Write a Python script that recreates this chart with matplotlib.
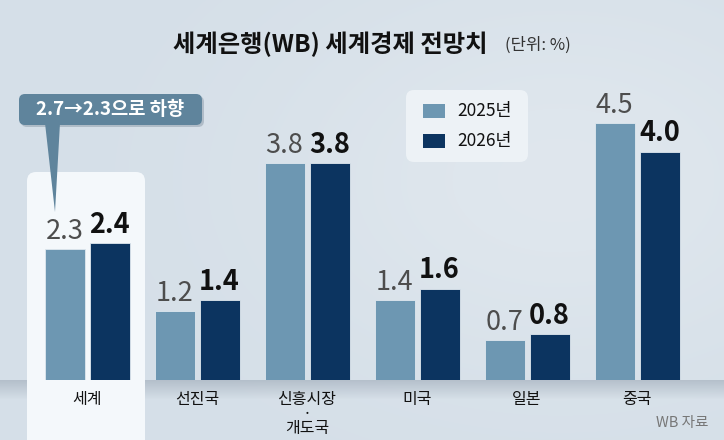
import matplotlib
matplotlib.use("Agg")
import matplotlib.pyplot as plt
import numpy as np
from matplotlib.patches import FancyBboxPatch, Polygon, Rectangle

plt.rcParams['font.family'] = ['Noto Sans CJK KR', 'DejaVu Sans']

categories = ["세계", "선진국", "신흥시장\n·\n개도국", "미국", "일본", "중국"]
v2025 = [2.3, 1.2, 3.8, 1.4, 0.7, 4.5]
v2026 = [2.4, 1.4, 3.8, 1.6, 0.8, 4.0]
series_names = ["2025년", "2026년"]
title = "세계은행(WB) 세계경제 전망치"
unit = "(단위: %)"
callout = "2.7→2.3으로 하향"
source = "WB 자료"

W, H = 724, 440
BG = "#d5dfe8"
C25 = "#6d97b2"
C26 = "#0c3460"

fig = plt.figure(figsize=(W / 100, H / 100), dpi=100)
fig.patch.set_facecolor(BG)

# background layer in pixel coordinates
bg = fig.add_axes([0, 0, 1, 1])
bg.set_xlim(0, W)
bg.set_ylim(H, 0)
bg.axis("off")
# subtle light gradient
yy, xx = np.mgrid[0:H, 0:W]
glow = np.exp(-(((xx - 560) / 300.0) ** 2 + ((yy - 180) / 200.0) ** 2))
img = np.zeros((H, W, 4))
img[..., :3] = 1.0
img[..., 3] = 0.25 * glow
bg.imshow(img, extent=(0, W, H, 0), zorder=0)
# shadow band under baseline
base_px = 380
sh = np.zeros((20, W, 4))
sh[..., :3] = np.array([0.55, 0.6, 0.66])
sh[..., 3] = np.linspace(0.45, 0.0, 20)[:, None]
bg.imshow(sh, extent=(0, W, base_px + 20, base_px), zorder=1)
# highlight box for 세계
bg.add_patch(FancyBboxPatch((27, 172), 118, 300, boxstyle="round,pad=0,rounding_size=9",
                            facecolor="#f4f8fb", edgecolor="none", zorder=2))
# callout
bg.add_patch(Polygon([(45, 123), (60, 123), (55, 212)], closed=True,
                     facecolor="#5f849c", edgecolor="none", zorder=6))
bg.add_patch(FancyBboxPatch((21, 96), 183, 31, boxstyle="round,pad=0,rounding_size=6",
                            facecolor="#8a9aa8", edgecolor="none", alpha=0.5, zorder=5))
bg.add_patch(FancyBboxPatch((19, 94), 183, 31, boxstyle="round,pad=0,rounding_size=6",
                            facecolor="#5f849c", edgecolor="none", zorder=6))
bg.text(110, 109.5, callout, color="white", fontsize=13.5, fontweight="bold",
        ha="center", va="center", zorder=7)
# legend box
bg.add_patch(FancyBboxPatch((406, 90), 122, 72, boxstyle="round,pad=0,rounding_size=8",
                            facecolor="#edf2f6", edgecolor="none", zorder=2))
for i, (name, col) in enumerate(zip(series_names, [C25, C26])):
    yc = 111 + 30 * i
    bg.add_patch(Rectangle((423, yc - 7), 22, 14, facecolor=col, edgecolor="none", zorder=3))
    bg.text(457, yc, name, fontsize=12.5, ha="left", va="center", color="#111111", zorder=3)
# titles
bg.text(330, 44, title, fontsize=17.5, fontweight="bold", ha="center", va="center",
        color="#111111", zorder=3)
bg.text(538, 45, unit, fontsize=12, ha="center", va="center", color="#333333", zorder=3)
bg.text(708, 423, source, fontsize=10.5, ha="right", va="center", color="#777777", zorder=3)

# main axes
ppu = 57.1
top_px = 40
ax = fig.add_axes([0, (H - base_px) / H, 1, (base_px - top_px) / H])
ax.patch.set_alpha(0)
c0, sp = 87.0, 110.0
ax.set_xlim(-c0 / sp, (W - c0) / sp)
ax.set_ylim(0, (base_px - top_px) / ppu)
for s in ax.spines.values():
    s.set_visible(False)
ax.set_yticks([])

x = np.arange(len(categories))
bw = 40 / sp
off = 22.5 / sp
ax.bar(x - off, v2025, width=bw, color=C25, edgecolor="#dfe8ef", linewidth=0.6, zorder=3)
ax.bar(x + off, v2026, width=bw, color=C26, edgecolor="#dfe8ef", linewidth=0.6, zorder=3)
for xi, a, b in zip(x, v2025, v2026):
    ax.annotate(f"{a:.1f}", (xi - off, a), xytext=(0, 3), textcoords="offset points",
                ha="center", va="bottom", fontsize=19.5, color="#4d4d4d", zorder=4)
    ax.annotate(f"{b:.1f}", (xi + off, b), xytext=(0, 3), textcoords="offset points",
                ha="center", va="bottom", fontsize=19.5, fontweight="bold", color="#111111", zorder=4)

ax.set_xticks(x)
ax.set_xticklabels(categories, fontsize=11.5, color="#111111", linespacing=0.8)
ax.tick_params(axis="x", length=0, pad=8)

fig.savefig("out.png", dpi=100, facecolor=fig.get_facecolor())
